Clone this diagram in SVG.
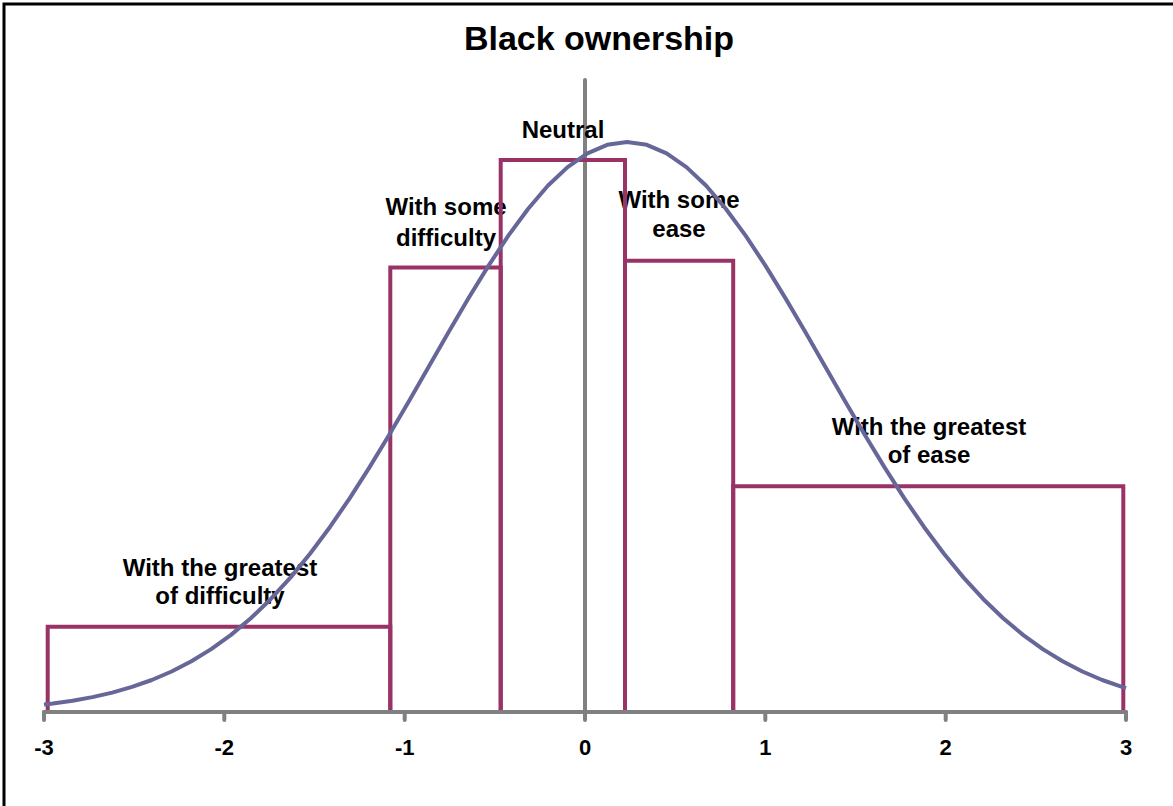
<svg xmlns="http://www.w3.org/2000/svg" width="1173" height="806" viewBox="0 0 1173 806">
<style>
text{font-family:"Liberation Sans",Arial,sans-serif;font-weight:bold;fill:#000;text-anchor:middle}
.lbl{font-size:24px}
.tick{font-size:22px}
.bar{fill:none;stroke:#993366;stroke-width:4;stroke-linejoin:miter}
.axis{stroke:#808080;stroke-width:4;fill:none;stroke-linecap:round}
.curve{fill:none;stroke:#666699;stroke-width:4;stroke-linejoin:round}
</style>
<rect x="0" y="0" width="1173" height="806" fill="#fff"/>
<rect x="4" y="4" width="1200" height="900" fill="none" stroke="#000" stroke-width="3"/>
<text x="599" y="50" style="font-size:34px">Black ownership</text>
<g id="y-axis"><line class="axis" x1="585" y1="80" x2="585" y2="712" stroke-linecap="butt"/></g>
<g id="labels">
<g id="lbl-greatest-difficulty"><text class="lbl" x="220" y="576">With the greatest</text><text class="lbl" x="220" y="604">of difficulty</text></g>
<g id="lbl-some-difficulty"><text class="lbl" x="446" y="215">With some</text><text class="lbl" x="446" y="246">difficulty</text></g>
<g id="lbl-neutral"><text class="lbl" x="563" y="138">Neutral</text></g>
<g id="lbl-some-ease"><text class="lbl" x="679" y="208">With some</text><text class="lbl" x="679" y="237">ease</text></g>
<g id="lbl-greatest-ease"><text class="lbl" x="929" y="435">With the greatest</text><text class="lbl" x="929" y="463">of ease</text></g>
</g>
<g id="bars">
<path id="bar1" class="bar" d="M47.7,712 V626.7 H390.3 V712"/>
<path id="bar2" class="bar" d="M390.3,712 V267.5 H500.7 V712"/>
<path id="bar3" class="bar" d="M500.7,712 V160 H625 V712"/>
<path id="bar4" class="bar" d="M625,712 V260.7 H733.2 V712"/>
<path id="bar5" class="bar" d="M733.2,712 V486.3 H1123.3 V712"/>
</g>
<g id="x-axis">
<line class="axis" x1="44" y1="712" x2="1126" y2="712" stroke-linecap="butt"/>
<path class="axis" d="M44,712V720M224.3,712V720M404.7,712V720M585,712V720M765.3,712V720M945.7,712V720M1126,712V720"/>
<text class="tick" x="44" y="755">-3</text>
<text class="tick" x="224.3" y="755">-2</text>
<text class="tick" x="404.7" y="755">-1</text>
<text class="tick" x="585" y="755">0</text>
<text class="tick" x="765.3" y="755">1</text>
<text class="tick" x="945.7" y="755">2</text>
<text class="tick" x="1126" y="755">3</text>
</g>
<g id="connectors">
<polyline id="normal-curve" class="curve" points="44,704.53 52.8,703.5 72.6,700.69 92.4,697.11 112.2,692.59 132,686.95 151.8,680.01 171.6,671.53 191.4,661.32 211.2,649.16 231,634.86 250.8,618.25 270.6,599.2 290.4,577.62 310.2,553.52 330,526.95 349.8,498.07 369.6,467.15 389.4,434.55 409.2,400.74 429,366.28 448.8,331.82 468.6,298.09 488.4,265.86 508.2,235.9 528,208.97 547.8,185.82 567.6,167.08 587.4,153.29 607.2,144.84 627,142 646.8,144.84 666.6,153.29 686.4,167.08 706.2,185.82 726,208.97 745.8,235.9 765.6,265.86 785.4,298.09 805.2,331.82 825,366.28 844.8,400.74 864.6,434.55 884.4,467.15 904.2,498.07 924,526.95 943.8,553.52 963.6,577.62 983.4,599.2 1003.2,618.25 1023,634.86 1042.8,649.16 1062.6,661.32 1082.4,671.53 1102.2,680.01 1122,686.95 1126,688.18"/>
</g>
</svg>
